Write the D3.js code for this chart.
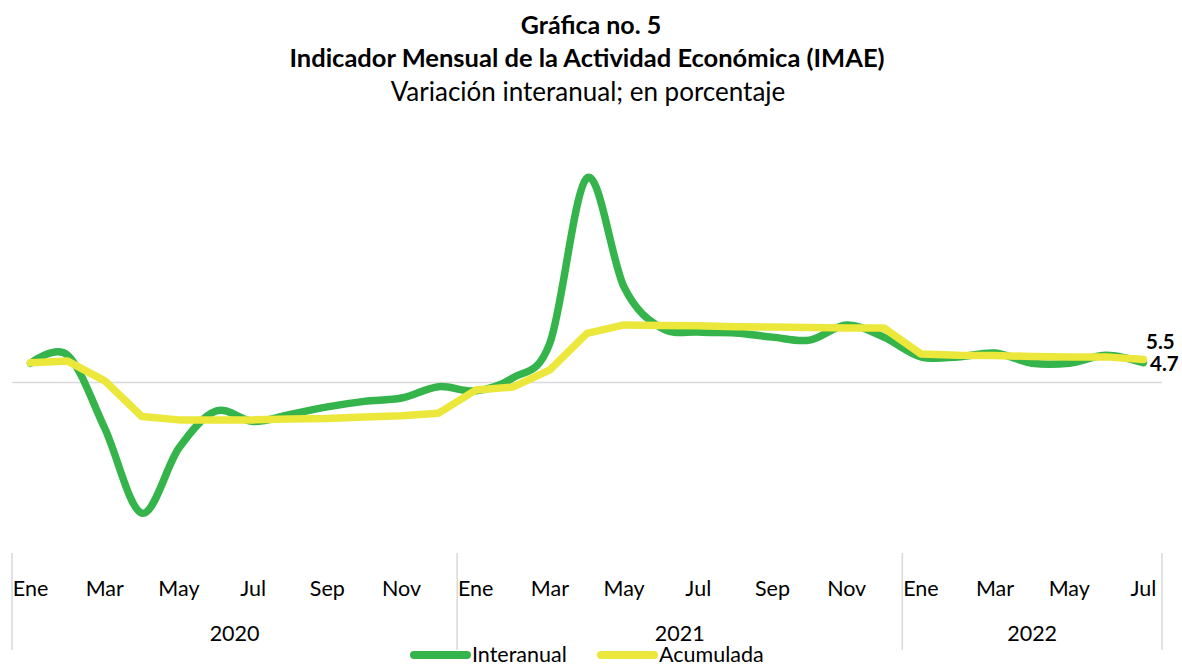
<!DOCTYPE html>
<html>
<head>
<meta charset="utf-8">
<script src="https://cdn.jsdelivr.net/npm/d3@7"></script>
<style>
    body { margin: 0; background: #fff; }
    svg { display: block; font-family: Lato, "Open Sans", sans-serif; }
</style>
</head>
<body>
<div id="svg-div"></div>
<script>
// categories: months Jan 2020 .. Jul 2022
const monthNames = ["Ene", "Feb", "Mar", "Abr", "May", "Jun", "Jul", "Ago", "Sep", "Oct", "Nov", "Dic"];
const years = ["2020", "2021", "2022"];
const monthsPerYear = [12, 12, 7];

// series values (percent)
const interanual = [4.6, 6.5, -10.9, -31.1, -15.6, -6.8, -9.3, -7.6, -5.8, -4.5, -3.7, -1.0,
    -2.0, 1.1, 9.4, 48.7, 22.7, 13.0, 12.0, 11.8, 10.8, 10.1, 13.7, 10.8,
    6.1, 6.1, 7.0, 4.6, 4.6, 6.5, 4.7];
const acumulada = [4.7, 5.1, 0.4, -8.1, -8.9, -8.9, -8.9, -8.7, -8.6, -8.2, -7.9, -7.3,
    -1.8, -1.1, 3.0, 11.7, 13.7, 13.6, 13.5, 13.3, 13.2, 13.1, 13.0, 13.0,
    6.8, 6.5, 6.4, 6.2, 6.1, 6.1, 5.5];
const endLabels = ["5.5", "4.7"];

const seriesList = [
    { name: "Interanual", values: interanual, color: "#34b44a", smooth: true },
    { name: "Acumulada", values: acumulada, color: "#ebe73b", smooth: false }
];

// build the category list
const categories = [];
years.forEach((yr, yi) => {
    for (let m = 0; m < monthsPerYear[yi]; m++) {
        categories.push({ year: yr, month: monthNames[m], idx: categories.length });
    }
});

const width = 1182, height = 664;
const plot = { left: 12, right: 1162 };

const svg = d3.select("#svg-div").append("svg")
    .attr("width", width)
    .attr("height", height);

// titles
svg.append("text").attr("x", 591).attr("y", 34)
    .attr("text-anchor", "middle").attr("font-weight", "bold").attr("font-size", 25)
    .text("Gráfica no. 5");
svg.append("text").attr("x", 587).attr("y", 67)
    .attr("text-anchor", "middle").attr("font-weight", "bold").attr("font-size", 25.5)
    .text("Indicador Mensual de la Actividad Económica (IMAE)");
svg.append("text").attr("x", 588).attr("y", 101)
    .attr("text-anchor", "middle").attr("font-size", 26)
    .text("Variación interanual; en porcentaje");

// scales
const x = d3.scaleBand()
    .domain(categories.map(d => d.idx))
    .range([plot.left, plot.right])
    .padding(0);
const cx = i => x(i) + x.bandwidth() / 2;
const y = d3.scaleLinear().domain([-35, 50]).range([529.5, 172.5]);

// zero line
svg.append("line")
    .attr("x1", plot.left).attr("x2", plot.right)
    .attr("y1", y(0)).attr("y2", y(0))
    .attr("stroke", "#d9d9d9").attr("stroke-width", 1.5);

// lines
seriesList.forEach(s => {
    const line = d3.line()
        .x((d, i) => cx(i))
        .y(d => y(d))
        .curve(s.smooth ? d3.curveCatmullRom.alpha(0) : d3.curveLinear);
    svg.append("path")
        .datum(s.values)
        .attr("d", line)
        .attr("fill", "none")
        .attr("stroke", s.color)
        .attr("stroke-width", 7.5)
        .attr("stroke-linejoin", "round")
        .attr("stroke-linecap", "round");
});

// end labels
const lastIdx = categories.length - 1;
svg.append("text").attr("x", 1146).attr("y", y(acumulada[lastIdx]) - 10)
    .attr("font-weight", "bold").attr("font-size", 20.5).text(endLabels[0]);
svg.append("text").attr("x", 1150).attr("y", y(interanual[lastIdx]) + 8)
    .attr("font-weight", "bold").attr("font-size", 20.5).text(endLabels[1]);

// category axis: month labels every two months
const axisG = svg.append("g").attr("font-size", 21.5);
axisG.selectAll("text.month")
    .data(categories.filter((d, i) => d.idx % 12 % 2 === 0))
    .enter().append("text")
    .attr("class", "month")
    .attr("x", d => cx(d.idx))
    .attr("y", 596)
    .attr("text-anchor", "middle")
    .text(d => d.month);

// year groups and separators
let start = 0;
const bounds = [start];
monthsPerYear.forEach(n => { start += n; bounds.push(start); });
axisG.selectAll("line.sep")
    .data(bounds).enter().append("line")
    .attr("class", "sep")
    .attr("x1", d => d < categories.length ? x(d) : plot.right)
    .attr("x2", d => d < categories.length ? x(d) : plot.right)
    .attr("y1", 553).attr("y2", 650)
    .attr("stroke", "#d9d9d9").attr("stroke-width", 1.5);
axisG.selectAll("text.year")
    .data(years).enter().append("text")
    .attr("class", "year")
    .attr("x", (d, i) => {
        const a = x(bounds[i]);
        const b = bounds[i + 1] < categories.length ? x(bounds[i + 1]) : plot.right;
        return (a + b) / 2;
    })
    .attr("y", 641)
    .attr("text-anchor", "middle")
    .text(d => d);

// legend
const legend = svg.append("g").attr("font-size", 21.5);
const legendX = [414, 601];
seriesList.forEach((s, i) => {
    legend.append("line")
        .attr("x1", legendX[i]).attr("x2", legendX[i] + 53)
        .attr("y1", 655).attr("y2", 655)
        .attr("stroke", s.color).attr("stroke-width", 8)
        .attr("stroke-linecap", "round");
    legend.append("text")
        .attr("x", legendX[i] + 58).attr("y", 662)
        .text(s.name);
});
</script>
</body>
</html>
